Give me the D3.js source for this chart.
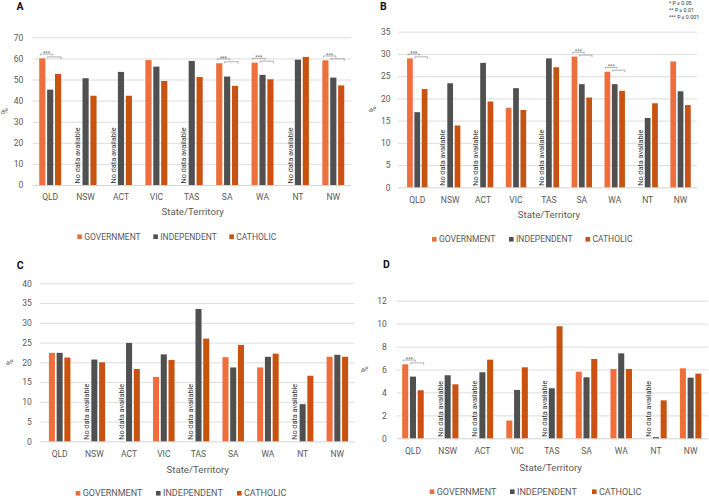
<!DOCTYPE html>
<html>
<head>
<meta charset="utf-8">
<script src="https://cdn.jsdelivr.net/npm/d3@7"></script>
<style>
  html, body { margin: 0; padding: 0; background: #fff; }
  svg { display: block; }
  text { font-family: Roboto, "Liberation Sans", Arial, sans-serif; }
</style>
</head>
<body>
<svg id="chart" width="709" height="498"></svg>
<script>
// ---------- DATA ----------
const categories = ["QLD", "NSW", "ACT", "VIC", "TAS", "SA", "WA", "NT", "NW"];
const seriesNames = ["GOVERNMENT", "INDEPENDENT", "CATHOLIC"];

const aGovernment  = [60.0, null, null, 59.2, null, 57.7, 58.0, null, 59.1];
const aIndependent = [45.2, 50.6, 53.6, 56.1, 58.8, 51.4, 52.2, 59.4, 50.9];
const aCatholic    = [52.6, 42.3, 42.3, 49.3, 51.2, 47.0, 50.1, 60.7, 47.2];

const bGovernment  = [29.0, null, null, 17.9, null, 29.4, 26.0, null, 28.3];
const bIndependent = [16.9, 23.4, 28.0, 22.3, 29.0, 23.2, 23.2, 15.6, 21.6];
const bCatholic    = [22.1, 13.9, 19.3, 17.4, 27.0, 20.2, 21.7, 18.9, 18.5];

const cGovernment  = [22.4, null, null, 16.3, null, 21.3, 18.7, null, 21.4];
const cIndependent = [22.4, 20.7, 24.9, 22.0, 33.5, 18.7, 21.4, 9.4, 21.9];
const cCatholic    = [21.2, 20.0, 18.3, 20.6, 26.0, 24.4, 22.2, 16.6, 21.4];

const dGovernment  = [6.45, null, null, 1.55, null, 5.8, 6.05, null, 6.1];
const dIndependent = [5.38, 5.5, 5.76, 4.22, 4.36, 5.32, 7.41, 0.1, 5.29];
const dCatholic    = [4.19, 4.71, 6.86, 6.19, 9.77, 6.92, 6.05, 3.31, 5.64];

const aTicks = [0, 10, 20, 30, 40, 50, 60, 70];
const bTicks = [0, 5, 10, 15, 20, 25, 30, 35];
const cTicks = [0, 5, 10, 15, 20, 25, 30, 35, 40];
const dTicks = [0, 2, 4, 6, 8, 10, 12];

const aSignificant = ["QLD", "SA", "WA", "NW"];
const bSignificant = ["QLD", "SA", "WA"];
const cSignificant = [];
const dSignificant = ["QLD"];

const significanceLegend = ["* P \u2264 0.05", "** P \u2264 0.01", "*** P \u2264 0.001"];
const noDataLabel = "No data available";
const xTitle = "State/Territory";
const yTitle = "%";

// ---------- STYLE ----------
const colors = { "GOVERNMENT": "#EF6E3C", "INDEPENDENT": "#505050", "CATHOLIC": "#C8520F" };
const textGray = "#595959";
const gridGray = "#d9d9d9";

const svg = d3.select("#chart");
svg.append("rect").attr("width", 709).attr("height", 498).attr("fill", "#fff");

const panels = [
  { letter: "A", lx: 16.5, ly: 10, gov: aGovernment, ind: aIndependent, cat: aCatholic, ticks: aTicks, sig: aSignificant,
    bx0: 32.5, bx1: 351, gx0: 32.7, yTop: 37.3, yBot: 185, tickPad: 9.5, xPad: 9,
    yTitleX: 5, xTitleX: 192.7, xTitleY: 215, legY: 236.7, legText: [84.3, 160.3, 236.3], legFs: 8.5 },
  { letter: "B", lx: 380, ly: 10, gov: bGovernment, ind: bIndependent, cat: bCatholic, ticks: bTicks, sig: bSignificant,
    bx0: 400.8, bx1: 697, gx0: 398, yTop: 31.7, yBot: 187.3, tickPad: 7.5, xPad: 10,
    yTitleX: 372.7, xTitleX: 549, xTitleY: 218, legY: 239.3, legText: [439, 516, 592.5], legFs: 8.5 },
  { letter: "C", lx: 16.7, ly: 269.3, gov: cGovernment, ind: cIndependent, cat: cCatholic, ticks: cTicks, sig: cSignificant,
    bx0: 42.3, bx1: 354.7, gx0: 40, yTop: 283.3, yBot: 441.3, tickPad: 8.3, xPad: 9.4,
    yTitleX: 10.3, xTitleX: 197.7, xTitleY: 473, legY: 493.3, legText: [82.7, 163, 244], legFs: 9 },
  { letter: "D", lx: 383, ly: 268.3, gov: dGovernment, ind: dIndependent, cat: dCatholic, ticks: dTicks, sig: dSignificant,
    bx0: 395.6, bx1: 708, gx0: 396.7, yTop: 300.7, yBot: 438.3, tickPad: 10, xPad: 10,
    yTitleX: 365.3, xTitleX: 550.7, xTitleY: 471, legY: 491.7, legText: [436.7, 517, 599], legFs: 9 }
];

panels.forEach(p => {
  const g = svg.append("g");
  const x0 = d3.scaleBand().domain(categories).range([p.bx0, p.bx1]).paddingInner(0.38).paddingOuter(0.19);
  const x1 = d3.scaleBand().domain(seriesNames).range([0, x0.bandwidth()]).paddingInner(0.22);
  const yMax = p.ticks[p.ticks.length - 1];
  const y = d3.scaleLinear().domain([0, yMax]).range([p.yBot, p.yTop]);
  const bw = x1.bandwidth();

  // y axis + gridlines
  const yAxis = d3.axisLeft(y).tickValues(p.ticks).tickSize(-(p.bx1 - p.gx0)).tickPadding(p.tickPad).tickFormat(d3.format("d"));
  const ya = g.append("g").attr("transform", `translate(${p.gx0},0)`).call(yAxis);
  ya.select(".domain").remove();
  ya.selectAll(".tick line").attr("stroke", (d) => d === 0 ? "#cfcfcf" : gridGray).attr("stroke-width", 0.9);
  ya.selectAll(".tick text").attr("fill", textGray).attr("font-size", 8.5).attr("font-family", "Roboto, sans-serif");

  // x axis labels
  const xAxis = d3.axisBottom(x0).tickSize(0).tickPadding(p.xPad);
  const xa = g.append("g").attr("transform", `translate(0,${p.yBot})`).call(xAxis);
  xa.select(".domain").remove();
  xa.selectAll(".tick text").attr("fill", textGray).attr("font-size", 8.5).attr("font-family", "Roboto, sans-serif");

  // bars
  const rows = categories.map((c, i) => ({ cat: c, vals: [p.gov[i], p.ind[i], p.cat[i]] }));
  const groups = g.selectAll(".grp").data(rows).enter().append("g")
    .attr("transform", d => `translate(${x0(d.cat)},0)`);
  groups.selectAll("rect")
    .data(d => seriesNames.map((s, j) => ({ s, v: d.vals[j] })).filter(e => e.v !== null))
    .enter().append("rect")
    .attr("x", d => x1(d.s))
    .attr("width", bw)
    .attr("y", d => y(d.v))
    .attr("height", d => y(0) - y(d.v))
    .attr("fill", d => colors[d.s]);

  // no data labels
  rows.filter(r => r.vals[0] === null).forEach(r => {
    const tx = x0(r.cat) + x1("GOVERNMENT") + bw / 2 + 2.6;
    const ty = p.yBot - 1.5;
    g.append("text")
      .attr("x", tx).attr("y", ty)
      .attr("transform", `rotate(-90,${tx},${ty})`)
      .attr("font-size", 7.3).attr("fill", "#333")
      .text(noDataLabel);
  });

  // significance brackets
  p.sig.forEach(c => {
    const i = categories.indexOf(c);
    const gx = x0(c) + x1("GOVERNMENT");
    const ix = x0(c) + x1("INDEPENDENT");
    const cx = x0(c) + x1("CATHOLIC");
    const gt = y(p.gov[i]);
    const b1y = gt - 4.3, b2y = gt - 1.5;
    const b1a = gx + 1, b1b = ix + bw - 0.5;
    const b2a = ix + 0.5, b2b = cx + bw;
    const path = d3.path();
    path.moveTo(b1a, b1y + 1.5); path.lineTo(b1a, b1y); path.lineTo(b1b, b1y); path.lineTo(b1b, b1y + 1.5);
    path.moveTo(b2a, b2y + 1.5); path.lineTo(b2a, b2y); path.lineTo(b2b, b2y); path.lineTo(b2b, b2y + 2);
    g.append("path").attr("d", path.toString()).attr("fill", "none").attr("stroke", "#8f8f8f").attr("stroke-width", 0.7);
    g.append("text").attr("x", (b1a + b1b) / 2).attr("y", b1y + 0.6)
      .attr("text-anchor", "middle").attr("font-size", 5.5).attr("fill", "#555").text("***");
  });

  // y title
  g.append("text")
    .attr("transform", `translate(${p.yTitleX + 2.8},${(p.yTop + p.yBot) / 2}) rotate(-90)`)
    .attr("text-anchor", "middle").attr("font-size", 8.5).attr("fill", textGray).text(yTitle);

  // x title
  g.append("text").attr("x", p.xTitleX).attr("y", p.xTitleY)
    .attr("text-anchor", "middle").attr("font-size", 9.7).attr("fill", textGray).text(xTitle);

  // legend
  seriesNames.forEach((s, j) => {
    const tx = p.legText[j];
    g.append("rect").attr("x", tx - 7).attr("y", p.legY - 2.3).attr("width", 4.6).attr("height", 4.6).attr("fill", colors[s]);
    g.append("text").attr("x", tx).attr("y", p.legY + 3.1)
      .attr("font-size", p.legFs).attr("fill", textGray).text(s);
  });

  // panel letter
  g.append("text").attr("x", p.lx).attr("y", p.ly)
    .attr("font-family", "'Liberation Serif', 'Times New Roman', serif")
    .attr("font-weight", "bold").attr("font-size", 10.5).attr("fill", "#111").text(p.letter);
});

// significance legend (top right)
svg.append("g").selectAll("text").data(significanceLegend).enter().append("text")
  .attr("x", 669).attr("y", (d, i) => 5.2 + i * 7)
  .attr("font-size", 5.3).attr("fill", "#333").text(d => d);
</script>
</body>
</html>
